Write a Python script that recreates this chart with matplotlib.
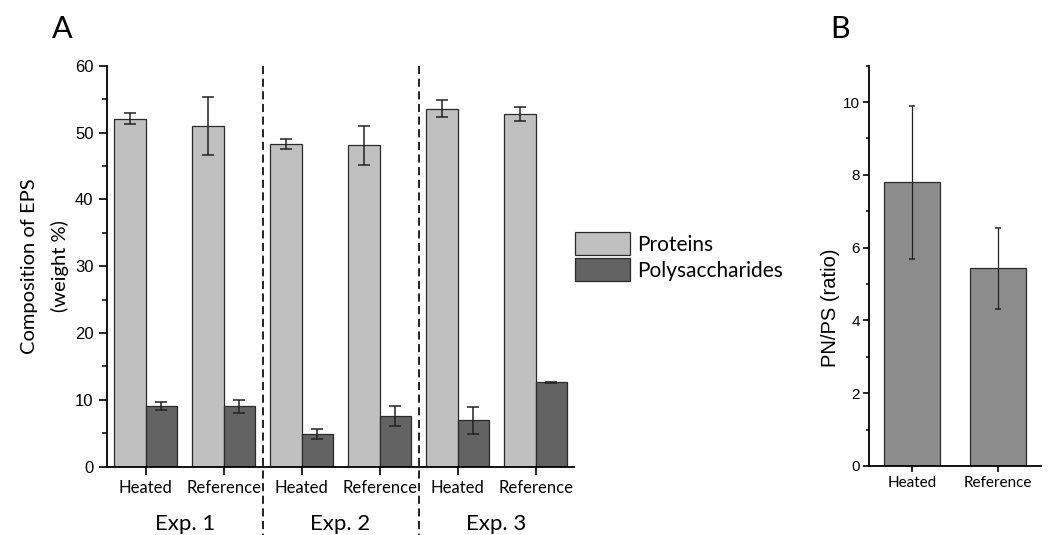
import numpy as np
import matplotlib
matplotlib.use("Agg")
import matplotlib.pyplot as plt
from matplotlib.ticker import MultipleLocator
from matplotlib.transforms import blended_transform_factory

plt.rcParams.update({
    "font.family": ["Lato", "DejaVu Sans"],
    "axes.linewidth": 1.3,
    "figure.facecolor": "white",
})

# ---- data ----
conditions = ["Heated", "Reference", "Heated", "Reference", "Heated", "Reference"]
experiments = ["Exp. 1", "Exp. 2", "Exp. 3"]
proteins = [52.1, 51.0, 48.3, 48.1, 53.6, 52.8]
proteins_err = [0.8, 4.3, 0.75, 2.9, 1.3, 1.1]
polysacch = [9.1, 9.0, 4.9, 7.5, 6.9, 12.6]
polysacch_err = [0.6, 1.0, 0.75, 1.5, 2.0, 0.05]

ratio_labels = ["Heated", "Reference"]
ratio = [7.8, 5.43]
ratio_err = [2.1, 1.12]

LIGHT = "#C0C0C0"
DARK = "#636363"
MID = "#8C8C8C"
EDGE = "#2a2a2a"
NUMFONT = "Liberation Sans"

fig = plt.figure(figsize=(10.52, 5.35), dpi=100)

# ---------------- panel A ----------------
ax = fig.add_axes([0.1014, 0.128, 0.4447, 0.749])
x = np.arange(len(conditions))
w = 0.4
ax.bar(x - w / 2, proteins, w, yerr=proteins_err, color=LIGHT, edgecolor=EDGE,
       linewidth=0.9, label="Proteins",
       error_kw=dict(ecolor="#222", elinewidth=1.1, capsize=4.5, capthick=1.1))
ax.bar(x + w / 2, polysacch, w, yerr=polysacch_err, color=DARK, edgecolor=EDGE,
       linewidth=0.9, label="Polysaccharides",
       error_kw=dict(ecolor="#222", elinewidth=1.1, capsize=4.5, capthick=1.1))
ax.set_xlim(-0.5, 5.5)
ax.set_ylim(0, 60)
ax.yaxis.set_major_locator(MultipleLocator(10))
ax.yaxis.set_minor_locator(MultipleLocator(5))
ax.set_xticks(x)
ax.set_xticklabels(conditions, fontsize=12)
ax.tick_params(axis="x", length=6, width=1.2, pad=4)
ax.tick_params(axis="y", which="major", length=6, width=1.2, pad=3.5, labelsize=12)
ax.tick_params(axis="y", which="minor", length=3.5, width=1.1)
for t in ax.get_yticklabels():
    t.set_fontfamily(NUMFONT)
for s in ("top", "right"):
    ax.spines[s].set_visible(False)
ax.set_ylabel("Composition of EPS\n(weight %)", fontsize=14.5, linespacing=1.85)
ax.yaxis.set_label_coords(-0.08, 0.5)

# dashed separators between experiments, running down past the axis
tr = blended_transform_factory(ax.transData, ax.transAxes)
for xs in (1.5, 3.5):
    ax.plot([xs, xs], [1.0, -0.175], transform=tr, color="#111", lw=1.3,
            ls=(0, (4.5, 2.5)), clip_on=False, zorder=5)
for i, lab in enumerate(experiments):
    ax.text(2 * i + 0.5, -0.1435, lab, transform=tr, ha="center", va="center",
            fontsize=16)

fig.legend(loc="upper left", bbox_to_anchor=(575 / 1052, 1 - 232 / 535),
           frameon=False, fontsize=15, handlelength=2.64, handleheight=1.34,
           handletextpad=0.35, labelspacing=0.14, borderpad=0, borderaxespad=0)

# ---------------- panel B ----------------
bx = fig.add_axes([0.8263, 0.129, 0.1629, 0.7482])
xb = np.arange(len(ratio_labels))
bx.bar(xb, ratio, 0.65, yerr=ratio_err, color=MID, edgecolor=EDGE, linewidth=0.9,
       error_kw=dict(ecolor="#222", elinewidth=0.9, capsize=2.2, capthick=1.1))
bx.set_xlim(-0.5, 1.5)
bx.set_ylim(0, 11)
bx.yaxis.set_major_locator(MultipleLocator(2))
bx.yaxis.set_minor_locator(MultipleLocator(1))
bx.set_xticks(xb)
bx.set_xticklabels(ratio_labels, fontsize=11)
bx.tick_params(axis="x", length=4, width=1.2, pad=3)
bx.tick_params(axis="y", which="major", length=4, width=1.2, pad=2.5, labelsize=11)
bx.tick_params(axis="y", which="minor", length=2.5, width=1.1)
for t in bx.get_yticklabels():
    t.set_fontfamily(NUMFONT)
for s in ("top", "right"):
    bx.spines[s].set_visible(False)
bx.set_ylabel("PN/PS (ratio)", fontsize=14.5, fontfamily=NUMFONT)
bx.yaxis.set_label_coords(-0.17, 4.35 / 11)

# panel letters
fig.text(52 / 1052, 1 - 38 / 535, "A", fontsize=22, va="baseline", ha="left")
fig.text(830 / 1052, 1 - 38 / 535, "B", fontsize=22, va="baseline", ha="left")

fig.savefig("out.png", dpi=100)
